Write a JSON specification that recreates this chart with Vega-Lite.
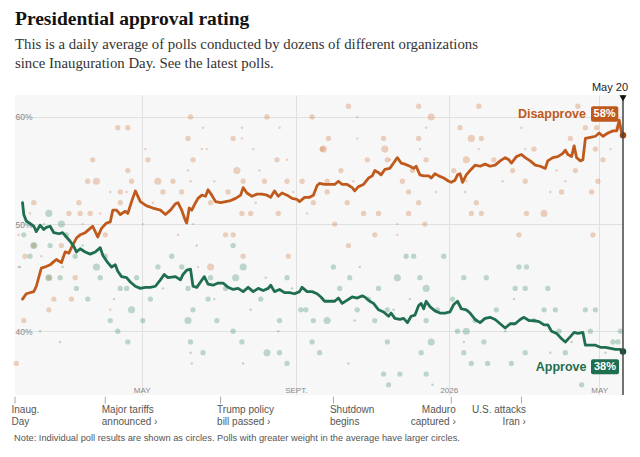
{
  "$schema": "https://vega.github.io/schema/vega-lite/v6.json",
  "width": 608,
  "height": 300,
  "autosize": {"type": "none"},
  "padding": {"left": 15, "top": 95, "right": 17, "bottom": 62},
  "background": "white",
  "config": {
    "view": {"fill": "#f7f7f7", "stroke": null},
    "text": {"font": "Liberation Sans Narrow, Liberation Sans, sans-serif"}
  },
  "title": {
    "text": "Presidential approval rating",
    "subtitle": [
      "This is a daily average of polls conducted by dozens of different organizations",
      "since Inauguration Day. See the latest polls."
    ],
    "anchor": "start",
    "frame": "group",
    "font": "Liberation Serif",
    "fontSize": 19.5,
    "fontWeight": "bold",
    "color": "#121212",
    "subtitleFont": "Liberation Serif",
    "subtitleFontSize": 14.8,
    "subtitleColor": "#333333",
    "subtitleLineHeight": 19,
    "subtitlePadding": 8,
    "offset": 10
  },
  "layer": [
    {
      "data": {
        "values": "date,series,pct,w\n2025-01-21,Disapprove,37,2\n2025-01-23,Disapprove,49,1\n2025-01-24,Disapprove,46,1\n2025-01-27,Disapprove,41,2\n2025-01-28,Disapprove,47,2\n2025-02-01,Disapprove,51,1\n2025-02-04,Disapprove,52,2\n2025-02-04,Disapprove,48,2\n2025-02-10,Disapprove,47,1\n2025-02-16,Disapprove,45,2\n2025-02-16,Disapprove,42,2\n2025-02-20,Disapprove,43,2\n2025-02-26,Disapprove,48,2\n2025-03-04,Disapprove,51,2\n2025-03-06,Disapprove,43,2\n2025-03-09,Disapprove,45,2\n2025-03-12,Disapprove,52,2\n2025-03-13,Disapprove,51,2\n2025-03-15,Disapprove,50,1\n2025-03-19,Disapprove,54,2\n2025-03-21,Disapprove,51,2\n2025-03-23,Disapprove,56,2\n2025-03-26,Disapprove,54,3\n2025-03-29,Disapprove,51,1\n2025-04-02,Disapprove,49,2\n2025-04-06,Disapprove,53,1\n2025-04-06,Disapprove,42,1\n2025-04-12,Disapprove,59,2\n2025-04-14,Disapprove,53,2\n2025-04-14,Disapprove,52,2\n2025-04-19,Disapprove,53,1\n2025-04-20,Disapprove,59,2\n2025-04-20,Disapprove,55,2\n2025-04-23,Disapprove,54,2\n2025-05-02,Disapprove,50,1\n2025-05-04,Disapprove,57,1\n2025-05-06,Disapprove,56,2\n2025-05-10,Disapprove,52,1\n2025-05-14,Disapprove,54,3\n2025-05-18,Disapprove,53,2\n2025-05-26,Disapprove,54,2\n2025-05-30,Disapprove,49,1\n2025-06-02,Disapprove,53,2\n2025-06-07,Disapprove,58,2\n2025-06-07,Disapprove,55,1\n2025-06-09,Disapprove,60,2\n2025-06-09,Disapprove,54,1\n2025-06-11,Disapprove,56,2\n2025-06-11,Disapprove,50,1\n2025-06-15,Disapprove,46,1\n2025-06-18,Disapprove,57,1\n2025-06-19,Disapprove,59,1\n2025-06-22,Disapprove,57,1\n2025-06-25,Disapprove,52,2\n2025-06-25,Disapprove,46,3\n2025-06-28,Disapprove,54,1\n2025-07-07,Disapprove,49,2\n2025-07-09,Disapprove,53,2\n2025-07-13,Disapprove,58,2\n2025-07-13,Disapprove,49,2\n2025-07-16,Disapprove,55,3\n2025-07-20,Disapprove,59,1\n2025-07-20,Disapprove,58,1\n2025-07-20,Disapprove,51,2\n2025-07-21,Disapprove,54,2\n2025-07-21,Disapprove,47,2\n2025-07-27,Disapprove,51,2\n2025-07-29,Disapprove,57,1\n2025-07-31,Disapprove,52,1\n2025-08-03,Disapprove,55,1\n2025-08-07,Disapprove,54,2\n2025-08-09,Disapprove,60,2\n2025-08-17,Disapprove,56,2\n2025-08-18,Disapprove,51,2\n2025-08-19,Disapprove,59,1\n2025-08-25,Disapprove,56,1\n2025-08-25,Disapprove,54,2\n2025-08-26,Disapprove,47,2\n2025-08-30,Disapprove,53,1\n2025-09-06,Disapprove,54,2\n2025-09-10,Disapprove,51,1\n2025-09-14,Disapprove,60,2\n2025-09-15,Disapprove,52,2\n2025-09-22,Disapprove,57,2\n2025-09-23,Disapprove,57,3\n2025-09-26,Disapprove,54,2\n2025-09-26,Disapprove,53,2\n2025-09-27,Disapprove,58,2\n2025-10-02,Disapprove,50,2\n2025-10-07,Disapprove,55,2\n2025-10-12,Disapprove,52,2\n2025-10-13,Disapprove,61,2\n2025-10-13,Disapprove,48,2\n2025-10-17,Disapprove,54,1\n2025-10-20,Disapprove,60,1\n2025-10-20,Disapprove,58,1\n2025-10-25,Disapprove,51,2\n2025-10-28,Disapprove,56,2\n2025-11-03,Disapprove,49,2\n2025-11-06,Disapprove,51,2\n2025-11-10,Disapprove,58,2\n2025-11-11,Disapprove,57,3\n2025-11-13,Disapprove,56,2\n2025-11-15,Disapprove,56,1\n2025-11-21,Disapprove,50,1\n2025-11-21,Disapprove,49,1\n2025-11-25,Disapprove,54,2\n2025-11-30,Disapprove,53,2\n2025-11-30,Disapprove,51,2\n2025-12-03,Disapprove,55,2\n2025-12-08,Disapprove,61,2\n2025-12-08,Disapprove,58,2\n2025-12-08,Disapprove,52,2\n2025-12-09,Disapprove,57,1\n2025-12-13,Disapprove,50,2\n2025-12-14,Disapprove,59,1\n2025-12-14,Disapprove,56,2\n2025-12-18,Disapprove,60,3\n2025-12-22,Disapprove,53,1\n2026-01-05,Disapprove,55,2\n2026-01-10,Disapprove,59,2\n2026-01-14,Disapprove,53,1\n2026-01-15,Disapprove,56,3\n2026-01-15,Disapprove,54,1\n2026-01-19,Disapprove,58,3\n2026-01-19,Disapprove,51,2\n2026-01-23,Disapprove,52,2\n2026-01-25,Disapprove,61,2\n2026-01-25,Disapprove,57,1\n2026-01-27,Disapprove,58,2\n2026-01-27,Disapprove,51,2\n2026-02-06,Disapprove,56,2\n2026-02-13,Disapprove,54,1\n2026-02-21,Disapprove,55,2\n2026-02-26,Disapprove,49,2\n2026-02-28,Disapprove,59,1\n2026-03-03,Disapprove,57,1\n2026-03-03,Disapprove,54,2\n2026-03-04,Disapprove,51,2\n2026-03-10,Disapprove,57,2\n2026-03-18,Disapprove,51,3\n2026-03-23,Disapprove,53,1\n2026-03-28,Disapprove,55,1\n2026-04-01,Disapprove,53,2\n2026-04-04,Disapprove,54,1\n2026-04-08,Disapprove,58,2\n2026-04-12,Disapprove,55,2\n2026-04-14,Disapprove,61,2\n2026-04-20,Disapprove,59,2\n2026-04-25,Disapprove,53,2\n2026-04-26,Disapprove,49,2\n2026-04-28,Disapprove,57,2\n2026-04-29,Disapprove,59,2\n2026-04-30,Disapprove,54,2\n2026-05-04,Disapprove,56,2\n2026-05-10,Disapprove,57,1\n2026-05-16,Disapprove,59,2\n2025-01-23,Approve,46,1\n2025-01-27,Approve,49,2\n2025-02-01,Approve,47,2\n2025-02-04,Approve,48,3\n2025-02-09,Approve,40,1\n2025-02-12,Approve,50,1\n2025-02-16,Approve,51,3\n2025-02-16,Approve,45,3\n2025-02-17,Approve,48,2\n2025-02-25,Approve,45,2\n2025-02-25,Approve,39,1\n2025-02-26,Approve,50,3\n2025-02-27,Approve,46,1\n2025-03-02,Approve,49,2\n2025-03-09,Approve,47,2\n2025-03-10,Approve,44,2\n2025-03-15,Approve,48,1\n2025-03-19,Approve,43,2\n2025-03-26,Approve,46,3\n2025-03-29,Approve,45,2\n2025-04-02,Approve,47,2\n2025-04-06,Approve,41,2\n2025-04-09,Approve,43,1\n2025-04-12,Approve,40,2\n2025-04-14,Approve,44,2\n2025-04-19,Approve,44,2\n2025-04-20,Approve,39,2\n2025-04-23,Approve,42,3\n2025-04-27,Approve,45,2\n2025-05-02,Approve,41,2\n2025-05-08,Approve,43,2\n2025-05-14,Approve,46,2\n2025-05-18,Approve,44,1\n2025-05-25,Approve,47,2\n2025-06-02,Approve,46,2\n2025-06-07,Approve,44,2\n2025-06-07,Approve,41,3\n2025-06-09,Approve,39,2\n2025-06-09,Approve,38,1\n2025-06-10,Approve,37,1\n2025-06-11,Approve,42,2\n2025-06-14,Approve,48,1\n2025-06-19,Approve,38,2\n2025-06-23,Approve,43,2\n2025-06-25,Approve,45,2\n2025-06-28,Approve,43,1\n2025-06-30,Approve,41,2\n2025-07-07,Approve,44,2\n2025-07-13,Approve,48,2\n2025-07-13,Approve,40,2\n2025-07-15,Approve,45,3\n2025-07-20,Approve,39,2\n2025-07-21,Approve,46,3\n2025-07-21,Approve,37,1\n2025-07-27,Approve,42,1\n2025-08-04,Approve,43,2\n2025-08-08,Approve,45,1\n2025-08-09,Approve,38,3\n2025-08-18,Approve,40,1\n2025-08-19,Approve,41,2\n2025-08-19,Approve,38,2\n2025-08-25,Approve,45,2\n2025-08-25,Approve,37,2\n2025-08-29,Approve,44,1\n2025-09-05,Approve,42,2\n2025-09-09,Approve,42,2\n2025-09-14,Approve,39,2\n2025-09-15,Approve,41,2\n2025-09-20,Approve,38,2\n2025-09-26,Approve,41,3\n2025-10-01,Approve,46,2\n2025-10-06,Approve,44,2\n2025-10-13,Approve,37,1\n2025-10-14,Approve,45,2\n2025-10-18,Approve,41,1\n2025-10-20,Approve,42,2\n2025-10-22,Approve,46,1\n2025-10-29,Approve,43,2\n2025-11-03,Approve,41,2\n2025-11-06,Approve,44,2\n2025-11-10,Approve,36,2\n2025-11-13,Approve,42,2\n2025-11-13,Approve,39,2\n2025-11-14,Approve,35,2\n2025-11-18,Approve,42,1\n2025-11-21,Approve,45,3\n2025-11-23,Approve,36,2\n2025-11-28,Approve,47,2\n2025-12-01,Approve,43,1\n2025-12-04,Approve,47,2\n2025-12-09,Approve,45,2\n2025-12-10,Approve,38,2\n2025-12-14,Approve,44,3\n2025-12-14,Approve,41,2\n2025-12-14,Approve,36,2\n2025-12-18,Approve,39,3\n2025-12-19,Approve,35,1\n2025-12-23,Approve,42,2\n2025-12-28,Approve,47,2\n2026-01-04,Approve,43,2\n2026-01-08,Approve,40,2\n2026-01-13,Approve,45,2\n2026-01-13,Approve,39,1\n2026-01-13,Approve,38,2\n2026-01-15,Approve,40,3\n2026-01-19,Approve,37,2\n2026-01-22,Approve,41,2\n2026-01-29,Approve,39,2\n2026-01-31,Approve,45,2\n2026-02-01,Approve,37,2\n2026-02-08,Approve,42,2\n2026-02-15,Approve,40,1\n2026-02-20,Approve,37,2\n2026-02-22,Approve,43,1\n2026-02-23,Approve,44,2\n2026-02-26,Approve,46,2\n2026-03-03,Approve,44,2\n2026-03-03,Approve,38,2\n2026-03-04,Approve,46,2\n2026-03-10,Approve,41,2\n2026-03-18,Approve,42,2\n2026-03-21,Approve,44,2\n2026-03-23,Approve,38,1\n2026-03-27,Approve,42,2\n2026-03-30,Approve,40,2\n2026-04-04,Approve,38,2\n2026-04-09,Approve,39,1\n2026-04-17,Approve,35,2\n2026-04-20,Approve,42,2\n2026-04-24,Approve,40,2\n2026-04-28,Approve,42,2\n2026-05-06,Approve,38,1\n2026-05-12,Approve,39,2\n2026-05-16,Approve,39,2\n2026-05-18,Approve,40,2",
        "format": {"type": "csv", "parse": {"date": "utc:'%Y-%m-%d'", "pct": "number", "w": "number"}}
      },
      "mark": {"type": "circle", "opacity": 0.32},
      "encoding": {
        "x": {
          "field": "date",
          "type": "temporal",
          "scale": {
            "type": "utc",
            "domain": [
              {"year": 2025, "month": 1, "date": 20, "utc": true},
              {"year": 2026, "month": 5, "date": 20, "utc": true}
            ]
          },
          "axis": {
            "values": [
              {"year": 2025, "month": 5, "date": 1, "utc": true},
              {"year": 2025, "month": 9, "date": 1, "utc": true},
              {"year": 2026, "month": 1, "date": 1, "utc": true},
              {"year": 2026, "month": 5, "date": 1, "utc": true}
            ],
            "labelExpr": "utcmonth(datum.value) == 0 ? utcyear(datum.value) + '' : (utcmonth(datum.value) == 4 ? 'MAY' : 'SEPT.')",
            "grid": true,
            "gridColor": "#e0e0e0",
            "domain": false,
            "ticks": false,
            "tickSize": 0,
            "labelPadding": -4.5,
            "labelBaseline": "middle",
            "labelOverlap": false,
            "labelFlush": false,
            "labelFont": "Liberation Sans Narrow, Liberation Sans, sans-serif",
            "labelFontSize": 8,
            "labelColor": "#888888",
            "title": null
          }
        },
        "y": {
          "field": "pct",
          "type": "quantitative",
          "scale": {"domain": [34.05, 62.05], "nice": false, "zero": false},
          "axis": {
            "values": [40, 50, 60],
            "labelExpr": "datum.value + '%'",
            "grid": true,
            "gridColor": "#e0e0e0",
            "domain": false,
            "ticks": false,
            "tickSize": 0,
            "labelAlign": "left",
            "labelBaseline": "middle",
            "labelPadding": 0,
            "labelFont": "Liberation Sans Narrow, Liberation Sans, sans-serif",
            "labelFontSize": 8.5,
            "labelColor": "#888888",
            "title": null
          }
        },
        "fill": {
          "field": "series",
          "type": "nominal",
          "scale": {"domain": ["Approve", "Disapprove"], "range": ["#3d8f69", "#d0753f"]},
          "legend": null
        },
        "size": {
          "field": "w",
          "type": "quantitative",
          "scale": {"domain": [1, 3], "range": [6, 50]},
          "legend": null
        }
      }
    },
    {
      "data": {
        "values": "date,series,pct\n2025-01-26,Disapprove,43.0\n2025-01-29,Disapprove,43.5\n2025-02-04,Disapprove,43.7\n2025-02-06,Disapprove,44.2\n2025-02-10,Disapprove,45.9\n2025-02-13,Disapprove,46.0\n2025-02-17,Disapprove,46.2\n2025-02-20,Disapprove,46.5\n2025-02-22,Disapprove,46.7\n2025-02-26,Disapprove,46.4\n2025-03-01,Disapprove,47.4\n2025-03-04,Disapprove,47.3\n2025-03-06,Disapprove,47.8\n2025-03-10,Disapprove,48.7\n2025-03-13,Disapprove,49.0\n2025-03-17,Disapprove,49.2\n2025-03-21,Disapprove,49.6\n2025-03-23,Disapprove,49.8\n2025-03-27,Disapprove,48.8\n2025-03-30,Disapprove,49.6\n2025-04-03,Disapprove,50.1\n2025-04-06,Disapprove,50.2\n2025-04-08,Disapprove,51.3\n2025-04-11,Disapprove,51.3\n2025-04-14,Disapprove,50.9\n2025-04-18,Disapprove,51.2\n2025-04-20,Disapprove,51.0\n2025-04-23,Disapprove,52.1\n2025-04-26,Disapprove,53.1\n2025-04-30,Disapprove,52.1\n2025-05-05,Disapprove,51.7\n2025-05-10,Disapprove,51.5\n2025-05-16,Disapprove,51.3\n2025-05-20,Disapprove,50.9\n2025-05-24,Disapprove,51.3\n2025-05-28,Disapprove,51.9\n2025-05-30,Disapprove,52.0\n2025-06-02,Disapprove,51.3\n2025-06-05,Disapprove,50.3\n2025-06-06,Disapprove,50.1\n2025-06-08,Disapprove,51.5\n2025-06-10,Disapprove,51.3\n2025-06-13,Disapprove,52.0\n2025-06-15,Disapprove,52.4\n2025-06-18,Disapprove,52.7\n2025-06-21,Disapprove,52.6\n2025-06-23,Disapprove,53.2\n2025-06-26,Disapprove,52.7\n2025-06-29,Disapprove,52.1\n2025-07-03,Disapprove,52.0\n2025-07-07,Disapprove,52.1\n2025-07-11,Disapprove,52.2\n2025-07-15,Disapprove,52.4\n2025-07-19,Disapprove,52.7\n2025-07-21,Disapprove,53.4\n2025-07-24,Disapprove,52.9\n2025-07-28,Disapprove,52.6\n2025-08-01,Disapprove,52.8\n2025-08-05,Disapprove,52.8\n2025-08-09,Disapprove,52.7\n2025-08-12,Disapprove,52.5\n2025-08-15,Disapprove,53.1\n2025-08-18,Disapprove,52.6\n2025-08-21,Disapprove,52.9\n2025-08-25,Disapprove,52.7\n2025-08-29,Disapprove,52.4\n2025-09-02,Disapprove,52.3\n2025-09-04,Disapprove,52.1\n2025-09-08,Disapprove,52.5\n2025-09-12,Disapprove,52.5\n2025-09-15,Disapprove,52.7\n2025-09-18,Disapprove,53.6\n2025-09-20,Disapprove,53.8\n2025-09-24,Disapprove,53.7\n2025-09-28,Disapprove,53.7\n2025-10-02,Disapprove,53.7\n2025-10-05,Disapprove,54.0\n2025-10-08,Disapprove,53.7\n2025-10-12,Disapprove,53.7\n2025-10-16,Disapprove,53.4\n2025-10-18,Disapprove,53.1\n2025-10-21,Disapprove,53.5\n2025-10-25,Disapprove,53.7\n2025-10-29,Disapprove,54.3\n2025-11-01,Disapprove,54.5\n2025-11-03,Disapprove,55.0\n2025-11-06,Disapprove,54.8\n2025-11-08,Disapprove,54.6\n2025-11-11,Disapprove,55.1\n2025-11-15,Disapprove,55.2\n2025-11-18,Disapprove,55.7\n2025-11-21,Disapprove,56.2\n2025-11-24,Disapprove,55.7\n2025-11-27,Disapprove,55.6\n2025-12-01,Disapprove,55.4\n2025-12-04,Disapprove,55.2\n2025-12-06,Disapprove,55.4\n2025-12-09,Disapprove,54.6\n2025-12-12,Disapprove,54.5\n2025-12-16,Disapprove,54.5\n2025-12-18,Disapprove,54.3\n2025-12-21,Disapprove,54.7\n2025-12-24,Disapprove,54.5\n2025-12-28,Disapprove,54.3\n2026-01-01,Disapprove,54.0\n2026-01-03,Disapprove,53.9\n2026-01-06,Disapprove,54.1\n2026-01-08,Disapprove,54.6\n2026-01-10,Disapprove,54.7\n2026-01-12,Disapprove,53.9\n2026-01-15,Disapprove,54.6\n2026-01-18,Disapprove,55.0\n2026-01-22,Disapprove,55.5\n2026-01-26,Disapprove,55.4\n2026-01-30,Disapprove,55.6\n2026-02-03,Disapprove,55.4\n2026-02-07,Disapprove,55.5\n2026-02-11,Disapprove,55.9\n2026-02-15,Disapprove,56.2\n2026-02-18,Disapprove,56.0\n2026-02-20,Disapprove,55.7\n2026-02-24,Disapprove,56.3\n2026-02-28,Disapprove,56.5\n2026-03-03,Disapprove,56.2\n2026-03-07,Disapprove,55.9\n2026-03-11,Disapprove,55.5\n2026-03-15,Disapprove,55.4\n2026-03-19,Disapprove,55.2\n2026-03-21,Disapprove,55.9\n2026-03-25,Disapprove,56.2\n2026-03-29,Disapprove,56.3\n2026-04-02,Disapprove,56.6\n2026-04-04,Disapprove,56.9\n2026-04-06,Disapprove,56.5\n2026-04-09,Disapprove,56.3\n2026-04-11,Disapprove,57.3\n2026-04-13,Disapprove,56.2\n2026-04-16,Disapprove,55.9\n2026-04-18,Disapprove,56.0\n2026-04-20,Disapprove,58.0\n2026-04-24,Disapprove,58.1\n2026-04-28,Disapprove,58.2\n2026-05-01,Disapprove,58.5\n2026-05-04,Disapprove,58.2\n2026-05-08,Disapprove,58.5\n2026-05-12,Disapprove,58.7\n2026-05-15,Disapprove,58.7\n2026-05-17,Disapprove,59.7\n2026-05-19,Disapprove,58.5\n2026-05-20,Disapprove,58.3\n2025-01-26,Approve,52.0\n2025-01-27,Approve,50.9\n2025-01-29,Approve,50.3\n2025-02-04,Approve,49.8\n2025-02-06,Approve,49.3\n2025-02-09,Approve,49.9\n2025-02-12,Approve,49.5\n2025-02-14,Approve,49.7\n2025-02-17,Approve,49.8\n2025-02-20,Approve,49.2\n2025-02-24,Approve,49.1\n2025-02-27,Approve,49.2\n2025-03-02,Approve,48.8\n2025-03-05,Approve,48.4\n2025-03-08,Approve,47.9\n2025-03-10,Approve,47.4\n2025-03-13,Approve,47.7\n2025-03-17,Approve,47.4\n2025-03-21,Approve,47.2\n2025-03-25,Approve,47.4\n2025-03-27,Approve,47.6\n2025-03-29,Approve,47.8\n2025-03-31,Approve,47.1\n2025-04-04,Approve,46.4\n2025-04-07,Approve,46.0\n2025-04-10,Approve,46.2\n2025-04-12,Approve,45.6\n2025-04-15,Approve,45.1\n2025-04-19,Approve,45.0\n2025-04-22,Approve,44.6\n2025-04-26,Approve,44.2\n2025-04-30,Approve,44.0\n2025-05-04,Approve,44.1\n2025-05-08,Approve,44.1\n2025-05-12,Approve,44.2\n2025-05-16,Approve,44.8\n2025-05-19,Approve,45.3\n2025-05-22,Approve,45.0\n2025-05-28,Approve,45.1\n2025-06-01,Approve,44.8\n2025-06-03,Approve,45.3\n2025-06-06,Approve,45.7\n2025-06-09,Approve,45.8\n2025-06-11,Approve,44.2\n2025-06-14,Approve,44.1\n2025-06-17,Approve,44.6\n2025-06-20,Approve,45.1\n2025-06-23,Approve,44.4\n2025-06-27,Approve,44.3\n2025-07-01,Approve,44.5\n2025-07-05,Approve,44.5\n2025-07-09,Approve,44.1\n2025-07-13,Approve,43.9\n2025-07-17,Approve,44.0\n2025-07-21,Approve,43.7\n2025-07-25,Approve,44.1\n2025-07-29,Approve,43.7\n2025-08-02,Approve,44.0\n2025-08-06,Approve,43.8\n2025-08-10,Approve,44.0\n2025-08-12,Approve,44.3\n2025-08-15,Approve,43.7\n2025-08-19,Approve,43.9\n2025-08-23,Approve,43.6\n2025-08-27,Approve,43.6\n2025-08-31,Approve,43.5\n2025-09-04,Approve,43.7\n2025-09-06,Approve,44.1\n2025-09-10,Approve,43.7\n2025-09-14,Approve,43.7\n2025-09-18,Approve,43.5\n2025-09-21,Approve,43.2\n2025-09-24,Approve,42.8\n2025-09-28,Approve,42.8\n2025-10-02,Approve,42.8\n2025-10-05,Approve,43.1\n2025-10-08,Approve,42.6\n2025-10-12,Approve,42.9\n2025-10-16,Approve,43.2\n2025-10-20,Approve,43.1\n2025-10-24,Approve,43.3\n2025-10-26,Approve,43.2\n2025-10-30,Approve,42.8\n2025-11-02,Approve,42.6\n2025-11-06,Approve,42.0\n2025-11-10,Approve,41.8\n2025-11-14,Approve,41.4\n2025-11-16,Approve,41.7\n2025-11-19,Approve,41.2\n2025-11-23,Approve,41.1\n2025-11-26,Approve,41.2\n2025-11-29,Approve,40.8\n2025-12-02,Approve,41.4\n2025-12-05,Approve,41.5\n2025-12-08,Approve,42.4\n2025-12-10,Approve,42.6\n2025-12-12,Approve,42.1\n2025-12-14,Approve,42.8\n2025-12-17,Approve,42.3\n2025-12-21,Approve,41.9\n2025-12-25,Approve,41.7\n2025-12-29,Approve,41.7\n2026-01-02,Approve,41.8\n2026-01-05,Approve,42.5\n2026-01-08,Approve,42.8\n2026-01-11,Approve,42.1\n2026-01-15,Approve,42.0\n2026-01-18,Approve,41.7\n2026-01-22,Approve,41.1\n2026-01-26,Approve,40.8\n2026-01-30,Approve,41.2\n2026-02-03,Approve,41.3\n2026-02-07,Approve,41.1\n2026-02-11,Approve,40.7\n2026-02-15,Approve,40.3\n2026-02-19,Approve,40.7\n2026-02-23,Approve,40.7\n2026-02-27,Approve,41.1\n2026-03-02,Approve,41.3\n2026-03-06,Approve,41.0\n2026-03-10,Approve,41.0\n2026-03-14,Approve,40.9\n2026-03-18,Approve,40.6\n2026-03-21,Approve,40.6\n2026-03-24,Approve,40.0\n2026-03-28,Approve,39.8\n2026-04-01,Approve,39.3\n2026-04-04,Approve,39.0\n2026-04-08,Approve,39.5\n2026-04-11,Approve,39.9\n2026-04-14,Approve,39.8\n2026-04-18,Approve,39.9\n2026-04-20,Approve,38.7\n2026-04-24,Approve,38.7\n2026-04-28,Approve,38.7\n2026-05-02,Approve,38.5\n2026-05-06,Approve,38.5\n2026-05-10,Approve,38.4\n2026-05-14,Approve,38.3\n2026-05-18,Approve,38.3\n2026-05-20,Approve,38.1",
        "format": {"type": "csv", "parse": {"date": "utc:'%Y-%m-%d'", "pct": "number"}}
      },
      "layer": [
        {
          "mark": {"type": "line", "strokeWidth": 2.8, "strokeJoin": "round", "strokeCap": "round"},
          "encoding": {
            "x": {"field": "date", "type": "temporal"},
            "y": {"field": "pct", "type": "quantitative"},
            "stroke": {
              "field": "series",
              "type": "nominal",
              "scale": {"domain": ["Approve", "Disapprove"], "range": ["#1f6e4f", "#bf5a1c"]},
              "legend": null
            }
          }
        },
        {
          "transform": [
            {"joinaggregate": [{"op": "max", "field": "date", "as": "last"}], "groupby": ["series"]},
            {"filter": "datum.date >= datum.last"}
          ],
          "mark": {"type": "circle", "size": 42, "opacity": 1},
          "encoding": {
            "x": {"field": "date", "type": "temporal"},
            "y": {"field": "pct", "type": "quantitative"},
            "color": {
              "field": "series",
              "type": "nominal",
              "scale": {"domain": ["Approve", "Disapprove"], "range": ["#17503a", "#9e4612"]},
              "legend": null
            }
          }
        }
      ]
    },
    {
      "data": {"values": [{"date": "2026-05-20", "label": "May 20"}]},
      "layer": [
        {
          "mark": {"type": "rule", "color": "#444444", "strokeWidth": 1.5},
          "encoding": {"x": {"field": "date", "type": "temporal"}}
        },
        {
          "mark": {"type": "point", "shape": "triangle-down", "filled": true, "color": "#111111", "size": 50, "opacity": 1},
          "encoding": {
            "x": {"field": "date", "type": "temporal"},
            "y": {"datum": 61.75}
          }
        },
        {
          "mark": {"type": "text", "align": "right", "dx": 5, "dy": -4, "baseline": "alphabetic", "fontSize": 11, "color": "#222222"},
          "encoding": {
            "x": {"field": "date", "type": "temporal"},
            "y": {"datum": 62.05},
            "text": {"field": "label"}
          }
        }
      ]
    },
    {
      "data": {"values": [{"date": "2026-05-20", "name": "Disapprove", "share": "58%"}]},
      "layer": [
        {
          "mark": {"type": "rect", "color": "#bf5a1c", "cornerRadius": 2, "xOffset": -32, "x2Offset": -4.7},
          "encoding": {
            "x": {"field": "date", "type": "temporal"},
            "x2": {"field": "date"},
            "y": {"datum": 61.0},
            "y2": {"datum": 59.55}
          }
        },
        {
          "mark": {"type": "text", "align": "right", "baseline": "middle", "dx": -37, "font": "Liberation Sans", "fontWeight": "bold", "fontSize": 12.5, "color": "#bf5a1c"},
          "encoding": {
            "x": {"field": "date", "type": "temporal"},
            "y": {"datum": 60.25},
            "text": {"field": "name"}
          }
        },
        {
          "mark": {"type": "text", "align": "center", "baseline": "middle", "dx": -18.4, "font": "Liberation Sans", "fontWeight": "bold", "fontSize": 11, "color": "white"},
          "encoding": {
            "x": {"field": "date", "type": "temporal"},
            "y": {"datum": 60.25},
            "text": {"field": "share"}
          }
        }
      ]
    },
    {
      "data": {"values": [{"date": "2026-05-20", "name": "Approve", "share": "38%"}]},
      "layer": [
        {
          "mark": {"type": "rect", "color": "#1f6e4f", "cornerRadius": 2, "xOffset": -32, "x2Offset": -4},
          "encoding": {
            "x": {"field": "date", "type": "temporal"},
            "x2": {"field": "date"},
            "y": {"datum": 37.38},
            "y2": {"datum": 35.98}
          }
        },
        {
          "mark": {"type": "text", "align": "right", "baseline": "middle", "dx": -36.5, "font": "Liberation Sans", "fontWeight": "bold", "fontSize": 12.5, "color": "#1f6e4f"},
          "encoding": {
            "x": {"field": "date", "type": "temporal"},
            "y": {"datum": 36.69},
            "text": {"field": "name"}
          }
        },
        {
          "mark": {"type": "text", "align": "center", "baseline": "middle", "dx": -18, "font": "Liberation Sans", "fontWeight": "bold", "fontSize": 11, "color": "white"},
          "encoding": {
            "x": {"field": "date", "type": "temporal"},
            "y": {"datum": 36.69},
            "text": {"field": "share"}
          }
        }
      ]
    },
    {
      "data": {
        "values": [
          {"date": "2025-01-20", "event": "Inaug.\nDay"},
          {"date": "2025-04-02", "event": "Major tariffs\nannounced ›"},
          {"date": "2025-07-03", "event": "Trump policy\nbill passed ›"},
          {"date": "2025-10-01", "event": "Shutdown\nbegins"},
          {"date": "2026-01-03", "event": "Maduro\ncaptured ›"},
          {"date": "2026-02-28", "event": "U.S. attacks\nIran ›"}
        ]
      },
      "layer": [
        {
          "mark": {"type": "rule", "color": "#aaaaaa", "strokeWidth": 1},
          "encoding": {
            "x": {"field": "date", "type": "temporal"},
            "y": {"datum": 33.9},
            "y2": {"datum": 33.25}
          }
        },
        {
          "transform": [{"filter": {"field": "event", "oneOf": ["Inaug.\nDay", "Major tariffs\nannounced ›", "Trump policy\nbill passed ›", "Shutdown\nbegins"]}}],
          "mark": {"type": "text", "align": "left", "baseline": "alphabetic", "dx": -3.5, "lineBreak": "\n", "lineHeight": 11.5, "fontSize": 10, "color": "#555555"},
          "encoding": {
            "x": {"field": "date", "type": "temporal"},
            "y": {"datum": 32.33},
            "text": {"field": "event"}
          }
        },
        {
          "transform": [{"filter": {"field": "event", "oneOf": ["Maduro\ncaptured ›", "U.S. attacks\nIran ›"]}}],
          "mark": {"type": "text", "align": "right", "baseline": "alphabetic", "dx": 4.5, "lineBreak": "\n", "lineHeight": 11.5, "fontSize": 10, "color": "#555555"},
          "encoding": {
            "x": {"field": "date", "type": "temporal"},
            "y": {"datum": 32.33},
            "text": {"field": "event"}
          }
        }
      ]
    },
    {
      "data": {"values": [{"date": "2025-01-20", "note": "Note: Individual poll results are shown as circles. Polls with greater weight in the average have larger circles."}]},
      "mark": {"type": "text", "align": "left", "baseline": "alphabetic", "dx": -1, "fontSize": 9.3, "color": "#555555"},
      "encoding": {
        "x": {"field": "date", "type": "temporal"},
        "y": {"datum": 29.72},
        "text": {"field": "note"}
      }
    }
  ]
}
